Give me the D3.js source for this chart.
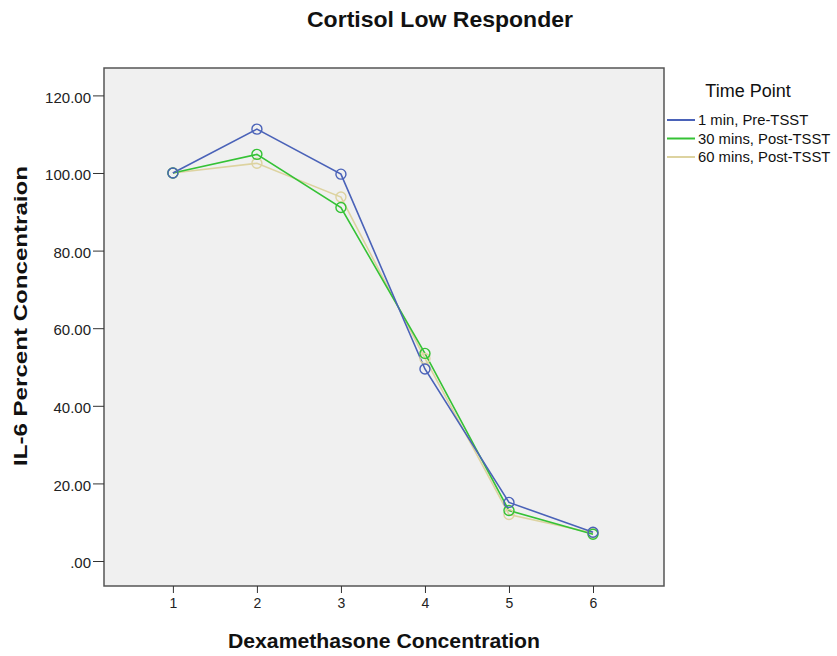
<!DOCTYPE html>
<html><head><meta charset="utf-8">
<script src="https://cdn.jsdelivr.net/npm/d3@7"></script>
<style>body{margin:0;background:#fff;} text{font-family:Arial,"Liberation Sans",sans-serif;}</style>
</head><body>
<svg id="c" width="837" height="656"></svg>
<script>
const categories = [1, 2, 3, 4, 5, 6];
const seriesNames = ["1 min, Pre-TSST", "30 mins, Post-TSST", "60 mins, Post-TSST"];
const seriesColors = ["#4a62b8", "#35c235", "#ddd3a0"];
const pre1 = [100.0, 111.3, 99.7, 49.5, 15.1, 7.4];
const post30 = [100.0, 104.8, 91.1, 53.5, 13.0, 6.9];
const post60 = [100.0, 102.5, 93.8, 52.2, 12.0, 7.2];
const yTicks = [0, 20, 40, 60, 80, 100, 120];

const series = [post60, post30, pre1];
const order = [2, 1, 0];

const svg = d3.select("#c");
const L = 104, R = 664, T = 68, B = 586;
const x = d3.scaleLinear().domain([0.18, 6.845]).range([L, R]);
const y = d3.scaleLinear().domain([-6.44, 127.06]).range([B, T]);
const FF = "Arial,'Liberation Sans',sans-serif";

svg.append("rect").attr("x", L).attr("y", T).attr("width", R - L).attr("height", B - T)
  .attr("fill", "#f0f0f0").attr("stroke", "#555").attr("stroke-width", 1.5);

const yAxis = d3.axisLeft(y).tickValues(yTicks).tickSize(11).tickPadding(2)
  .tickFormat(d => d === 0 ? ".00" : d3.format(".2f")(d));
const gy = svg.append("g").attr("transform", `translate(${L},0)`).call(yAxis);
gy.select(".domain").remove();
gy.selectAll("line").attr("stroke", "#333");
gy.selectAll("text").attr("font-size", 15).attr("dy", "0.45em").attr("fill", "#222").style("font-family", FF);

const xAxis = d3.axisBottom(x).tickValues(categories).tickSize(7).tickPadding(5).tickFormat(d3.format("d"));
const gx = svg.append("g").attr("transform", `translate(0,${B})`).call(xAxis);
gx.select(".domain").remove();
gx.selectAll("line").attr("stroke", "#333");
gx.selectAll("text").attr("font-size", 14).attr("fill", "#222").style("font-family", FF);

const line = d3.line().x((d, i) => x(categories[i])).y(d => y(d));
series.forEach((vals, k) => {
  const col = seriesColors[order[k]];
  svg.append("path").datum(vals).attr("d", line).attr("fill", "none")
    .attr("stroke", col).attr("stroke-width", 1.6);
});
series.forEach((vals, k) => {
  const col = seriesColors[order[k]];
  svg.append("g").selectAll("circle").data(vals).join("circle")
    .attr("cx", (d, i) => x(categories[i])).attr("cy", d => y(d)).attr("r", 5)
    .attr("fill", "none").attr("stroke", col).attr("stroke-width", 1.4);
});

svg.append("text").attr("x", 440).attr("y", 27).attr("text-anchor", "middle")
  .attr("font-size", 22).attr("font-weight", "bold").attr("fill", "#111")
  .attr("textLength", 266).attr("lengthAdjust", "spacingAndGlyphs").text("Cortisol Low Responder");
svg.append("text").attr("x", 384).attr("y", 648).attr("text-anchor", "middle")
  .attr("font-size", 20).attr("font-weight", "bold").attr("fill", "#111")
  .attr("textLength", 312).attr("lengthAdjust", "spacingAndGlyphs").text("Dexamethasone Concentration");
svg.append("text").attr("transform", "translate(27,316) rotate(-90)").attr("text-anchor", "middle")
  .attr("font-size", 19).attr("font-weight", "bold").attr("fill", "#111")
  .attr("textLength", 300).attr("lengthAdjust", "spacingAndGlyphs").text("IL-6 Percent Concentraion");

svg.append("text").attr("x", 748).attr("y", 97).attr("text-anchor", "middle")
  .attr("font-size", 18).attr("fill", "#111").text("Time Point");
seriesNames.forEach((n, i) => {
  const yy = 120 + i * 18.5;
  svg.append("line").attr("x1", 667).attr("x2", 695).attr("y1", yy).attr("y2", yy)
    .attr("stroke", seriesColors[i]).attr("stroke-width", 2);
  svg.append("text").attr("x", 698).attr("y", yy + 5).attr("font-size", 14.8).attr("fill", "#111").text(n);
});
</script>
</body></html>
